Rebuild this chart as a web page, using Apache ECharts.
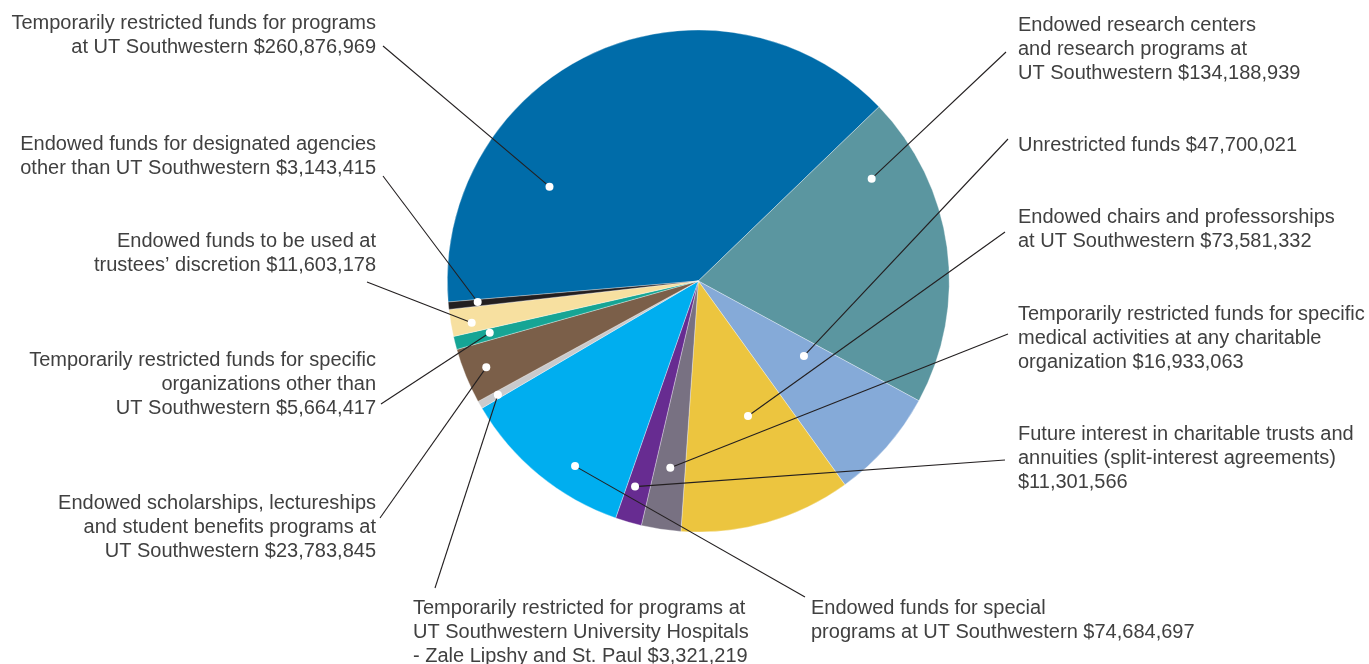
<!DOCTYPE html>
<html><head><meta charset="utf-8">
<script src="https://cdn.jsdelivr.net/npm/echarts@6/dist/echarts.min.js"></script>
<style>html,body{margin:0;padding:0;background:#fff}#c{width:1369px;height:664px}</style>
</head><body><div id="c"></div>
<script>
// ---- data ----
const labels = [
  'Temporarily restricted funds for programs\nat UT Southwestern $260,876,969',
  'Endowed research centers\nand research programs at\nUT Southwestern $134,188,939',
  'Unrestricted funds $47,700,021',
  'Endowed chairs and professorships\nat UT Southwestern $73,581,332',
  'Temporarily restricted funds for specific\nmedical activities at any charitable\norganization $16,933,063',
  'Future interest in charitable trusts and\nannuities (split-interest agreements)\n$11,301,566',
  'Endowed funds for special\nprograms at UT Southwestern $74,684,697',
  'Temporarily restricted for programs at\nUT Southwestern University Hospitals\n- Zale Lipshy and St. Paul $3,321,219',
  'Endowed scholarships, lectureships\nand student benefits programs at\nUT Southwestern $23,783,845',
  'Temporarily restricted funds for specific\norganizations other than\nUT Southwestern $5,664,417',
  'Endowed funds to be used at\ntrustees\u2019 discretion $11,603,178',
  'Endowed funds for designated agencies\nother than UT Southwestern $3,143,415'
];
const values = [260876969, 134188939, 47700021, 73581332, 16933063, 11301566,
                74684697, 3321219, 23783845, 5664417, 11603178, 3143415];

// ---- styles ----
const colors = ['#006ca9', '#5b96a0', '#85aad8', '#ecc53f', '#787182', '#672c91',
                '#00aeef', '#c9cacc', '#7b5f49', '#16a595', '#f7e0a0', '#231f20'];

// ---- layout ----
const CX = 698.3, CY = 281, R = 251, START = 184.8;
// dot placement inside each slice: fraction along the slice's angle, fraction of radius
const dotT = [0.264, 0.185, 0.266, 0.391, 0.498, 0.652, 0.358, 0.49, 0.507, 0.62, 0.372, 0.62];
const dotR = [0.702, 0.802, 0.516, 0.573, 0.752, 0.857, 0.886, 0.918, 0.912, 0.856, 0.918, 0.883];
// label anchors [x, y(center), align]
const labelAnchor = [
  [376, 35, 'right'], [1018, 49, 'left'], [1018, 145, 'left'], [1018, 229, 'left'],
  [1018, 338, 'left'], [1018, 458, 'left'], [811, 620, 'left'], [413, 632, 'left'],
  [376, 527, 'right'], [376, 384, 'right'], [376, 253, 'right'], [376, 156, 'right']
];
// leader line end next to the label
const lineEnd = [
  [383, 46], [1006, 52], [1008, 139], [1005, 232], [1008, 334], [1005, 460],
  [805, 597], [435, 588], [380, 518], [381, 404], [367, 282], [383, 176]
];

const total = values.reduce((a, b) => a + b, 0);
const cum = [];
values.reduce((acc, v, i) => { cum[i] = acc; return acc + v; }, 0);
const dotAngleVal = values.map((v, i) => cum[i] + dotT[i] * v);

const chart = echarts.init(document.getElementById('c'), null, { renderer: 'canvas' });
chart.setOption({
  animation: false,
  backgroundColor: '#ffffff',
  polar: { center: [CX, CY], radius: R },
  angleAxis: {
    type: 'value', min: 0, max: total, startAngle: START, clockwise: true,
    axisLine: { show: false }, axisTick: { show: false }, axisLabel: { show: false }, splitLine: { show: false }
  },
  radiusAxis: {
    type: 'value', min: 0, max: 1,
    axisLine: { show: false }, axisTick: { show: false }, axisLabel: { show: false }, splitLine: { show: false }
  },
  series: [
    {
      type: 'pie',
      center: [CX, CY],
      radius: R,
      startAngle: START,
      clockwise: true,
      avoidLabelOverlap: false,
      silent: true,
      emphasis: { disabled: true },
      itemStyle: { borderColor: 'rgba(255,255,255,0.55)', borderWidth: 0.6 },
      data: values.map((v, i) => ({ value: v, name: labels[i], itemStyle: { color: colors[i] } })),
      label: {
        show: true,
        position: 'outside',
        formatter: '{b}',
        color: '#404040',
        fontFamily: '"Liberation Sans", Arial, Helvetica, sans-serif',
        fontSize: 20,
        lineHeight: 24
      },
      labelLine: { show: false },
      labelLayout: function (p) {
        const L = labelAnchor[p.dataIndex];
        return { x: L[0], y: L[1], align: L[2], verticalAlign: 'middle' };
      }
    },
    {
      // leader lines + white dots, placed inside each slice through the polar scales
      type: 'custom',
      coordinateSystem: 'polar',
      silent: true,
      z: 10,
      data: values.map((v, i) => [dotR[i], dotAngleVal[i]]),
      renderItem: function (params, api) {
        const p = api.coord([api.value(0), api.value(1)]);
        const e = lineEnd[params.dataIndex];
        return {
          type: 'group',
          children: [
            { type: 'line', shape: { x1: e[0], y1: e[1], x2: p[0], y2: p[1] },
              style: { stroke: '#231f20', lineWidth: 1.1 } },
            { type: 'circle', shape: { cx: p[0], cy: p[1], r: 4 },
              style: { fill: '#ffffff' } }
          ]
        };
      }
    }
  ]
});
</script>
</body></html>
